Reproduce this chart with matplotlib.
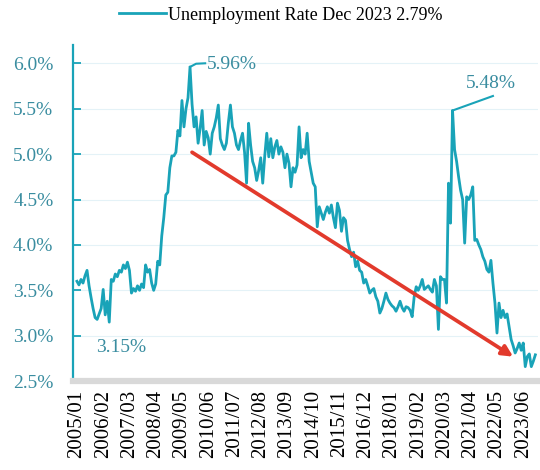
import numpy as np
import matplotlib
matplotlib.use("agg")
import matplotlib.pyplot as plt

# monthly unemployment rate (%), 2005/01 .. 2023/12
rate_2005 = [3.60, 3.56, 3.62, 3.58, 3.66, 3.72, 3.55, 3.42, 3.30, 3.20, 3.18, 3.24]
rate_2006 = [3.30, 3.51, 3.23, 3.38, 3.15, 3.62, 3.60, 3.68, 3.65, 3.72, 3.70, 3.78]
rate_2007 = [3.74, 3.81, 3.72, 3.47, 3.52, 3.49, 3.55, 3.50, 3.57, 3.53, 3.78, 3.70]
rate_2008 = [3.73, 3.58, 3.50, 3.57, 3.82, 3.78, 4.10, 4.30, 4.55, 4.58, 4.85, 4.98]
rate_2009 = [4.98, 5.02, 5.26, 5.20, 5.59, 5.30, 5.50, 5.62, 5.96, 5.55, 5.30, 5.41]
rate_2010 = [5.12, 5.28, 5.48, 5.10, 5.25, 5.18, 5.00, 5.23, 5.30, 5.40, 5.54, 5.17]
rate_2011 = [5.10, 5.05, 5.12, 5.35, 5.54, 5.30, 5.23, 5.10, 5.05, 5.15, 5.23, 5.02]
rate_2012 = [4.68, 5.34, 5.10, 4.92, 4.85, 4.71, 4.82, 4.96, 4.68, 4.98, 5.23, 4.97]
rate_2013 = [5.17, 4.96, 5.08, 5.15, 5.00, 5.08, 5.02, 4.85, 5.00, 4.90, 4.64, 4.85]
rate_2014 = [4.80, 4.88, 5.30, 4.96, 5.05, 5.00, 5.23, 4.92, 4.80, 4.68, 4.64, 4.20]
rate_2015 = [4.42, 4.35, 4.28, 4.36, 4.42, 4.35, 4.44, 4.30, 4.19, 4.46, 4.38, 4.15]
rate_2016 = [4.30, 4.27, 4.05, 3.95, 3.87, 3.92, 3.76, 3.82, 3.72, 3.70, 3.58, 3.62]
rate_2017 = [3.55, 3.47, 3.50, 3.52, 3.43, 3.38, 3.25, 3.30, 3.38, 3.47, 3.40, 3.36]
rate_2018 = [3.33, 3.31, 3.27, 3.32, 3.38, 3.31, 3.27, 3.32, 3.31, 3.28, 3.21, 3.43]
rate_2019 = [3.54, 3.50, 3.55, 3.62, 3.51, 3.53, 3.55, 3.51, 3.48, 3.62, 3.55, 3.07]
rate_2020 = [3.65, 3.62, 3.62, 3.36, 4.68, 4.24, 5.48, 5.05, 4.92, 4.75, 4.60, 4.50]
rate_2021 = [4.02, 4.53, 4.50, 4.55, 4.64, 4.05, 4.06, 4.00, 3.95, 3.87, 3.82, 3.73]
rate_2022 = [3.70, 3.83, 3.58, 3.36, 3.03, 3.36, 3.20, 3.28, 3.20, 3.24, 3.10, 2.96]
rate_2023 = [2.89, 2.81, 2.86, 2.92, 2.84, 2.92, 2.66, 2.77, 2.80, 2.66, 2.72, 2.79]

rate = (rate_2005 + rate_2006 + rate_2007 + rate_2008 + rate_2009 + rate_2010
        + rate_2011 + rate_2012 + rate_2013 + rate_2014 + rate_2015 + rate_2016
        + rate_2017 + rate_2018 + rate_2019 + rate_2020 + rate_2021 + rate_2022
        + rate_2023)
months = ["%d/%02d" % (2005 + k // 12, k % 12 + 1) for k in range(len(rate))]

y_ticks = [2.5, 3.0, 3.5, 4.0, 4.5, 5.0, 5.5, 6.0]
tick_step = 13
legend_label = "Unemployment Rate Dec 2023 2.79%"
# trend arrow: (month index, value) start/end
trend_start = (57, 5.02)
trend_end = (216, 2.77)

LINE = "#19a3b8"
TXT = "#3a8da0"
RED = "#e23a2c"
SERIF = ["Liberation Serif", "DejaVu Serif"]

plt.rcParams['font.family'] = SERIF

fig = plt.figure(figsize=(5.4, 4.7), dpi=100)
ax = fig.add_axes([0.135, 0.189, 0.862, 0.715])

x = np.arange(len(rate))
ax.plot(x, rate, color=LINE, lw=2.0, label=legend_label, zorder=3)

ax.set_ylim(2.5, 6.2)
ax.set_xlim(-2, 228.5)
ax.set_yticks(y_ticks)
ax.set_yticklabels(["%.1f%%" % v for v in y_ticks], color=TXT, fontsize=14)
ax.set_xticks(x[::tick_step])
ax.set_xticklabels(months[::tick_step], rotation=90, fontsize=15, color="black")
ax.tick_params(axis="y", direction="in", length=6, width=1.3, color=LINE, pad=14)
ax.tick_params(axis="x", length=0, pad=6)
ax.grid(axis="y", color="#e4f2f7", lw=0.8)
ax.set_axisbelow(True)

for s in ["top", "right"]:
    ax.spines[s].set_visible(False)
ax.spines["left"].set_color(LINE)
ax.spines["left"].set_linewidth(1.6)
ax.spines["bottom"].set_color("#d9d9d9")
ax.spines["bottom"].set_linewidth(4.5)

# peak labels with leader lines
imax1 = int(np.argmax(rate[:120]))
ax.plot([imax1, imax1 + 3, imax1 + 7.5], [rate[imax1], rate[imax1] + 0.035, rate[imax1] + 0.04],
        color=LINE, lw=1.5, zorder=3)
ax.text(imax1 + 8.5, rate[imax1] + 0.03, "%.2f%%" % rate[imax1], color=TXT, fontsize=14,
        ha="left", va="center")

imax2 = 120 + int(np.argmax(rate[120:]))
ax.plot([imax2, imax2 + 20], [rate[imax2], rate[imax2] + 0.16], color=LINE, lw=1.5, zorder=3)
ax.text(imax2 + 19, rate[imax2] + 0.30, "%.2f%%" % rate[imax2], color=TXT, fontsize=14,
        ha="center", va="center")

imin = int(np.argmin(rate[:60]))
ax.text(22, 2.87, "%.2f%%" % rate[imin], color=TXT, fontsize=14, ha="center", va="center")

# red trend arrow
ax.annotate("", xy=trend_end, xytext=trend_start,
            arrowprops=dict(arrowstyle="-|>", color=RED, lw=2.7, mutation_scale=16,
                            shrinkA=0, shrinkB=0), zorder=4)

fig.legend(loc="center", bbox_to_anchor=(0.52, 0.968), frameon=False,
           fontsize=13, handlelength=2.6, handletextpad=0.1, borderaxespad=0)

plt.savefig("out.png", dpi=100)
plt.close()
